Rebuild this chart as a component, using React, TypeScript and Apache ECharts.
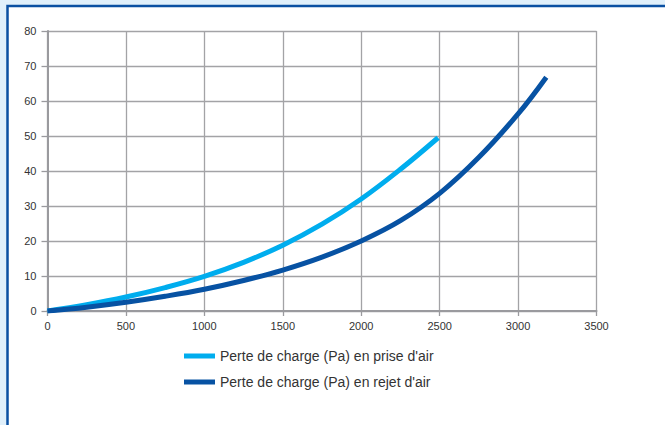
import React, { useEffect, useRef } from "react";
import * as echarts from "echarts";

const priseX = [0, 250, 500, 750, 1000, 1250, 1500, 1750, 2000, 2250, 2490];
const priseY = [0, 1.8, 4.0, 6.7, 9.9, 13.9, 18.8, 24.8, 32.0, 40.5, 49.5];
const rejetX = [0, 250, 500, 750, 1000, 1250, 1500, 1750, 2000, 2250, 2500, 2750, 3000, 3180];
const rejetY = [0, 1.1, 2.5, 4.2, 6.2, 8.7, 11.7, 15.4, 20.0, 25.8, 33.6, 43.9, 56.3, 66.8];
const xTicks = [0, 500, 1000, 1500, 2000, 2500, 3000, 3500];
const seriesNames = ["Perte de charge (Pa) en prise d'air", "Perte de charge (Pa) en rejet d'air"];
const colors = ["#00adee", "#0752a3"];

export default function App() {
  const ref = useRef<HTMLDivElement>(null);
  useEffect(() => {
    if (!ref.current) return;
    const chart = echarts.init(ref.current, undefined, { renderer: "svg" });
    const font = "'Liberation Sans', Arial, sans-serif";
    chart.setOption({
      animation: false,
      backgroundColor: "#ffffff",
      graphic: [
        { type: "rect", z: -10, shape: { x: 0, y: 0, width: 665, height: 425 }, style: { fill: "#e0f0fb" } },
        { type: "rect", z: -9, shape: { x: 7.5, y: 6, width: 720, height: 500 }, style: { fill: "#ffffff", stroke: "#0a50a2", lineWidth: 2.5 } },
      ],
      grid: { left: 47.5, right: 68.5, top: 31, bottom: 114 },
      xAxis: {
        type: "value",
        min: xTicks[0],
        max: xTicks[xTicks.length - 1],
        interval: 500,
        axisLine: { show: true, lineStyle: { color: "#9a9a9e", width: 2 } },
        axisTick: { show: true, length: 5, lineStyle: { color: "#9a9a9e", width: 1.3 } },
        axisLabel: { color: "#333", fontSize: 11, fontFamily: font, margin: 9, formatter: (v: number) => String(v) },
        splitLine: { show: true, lineStyle: { color: "#a3a3a6", width: 1.3 } },
      },
      yAxis: {
        type: "value",
        min: 0,
        max: 80,
        interval: 10,
        axisLine: { show: true, lineStyle: { color: "#9a9a9e", width: 2 } },
        axisTick: { show: true, length: 6, lineStyle: { color: "#9a9a9e", width: 1.3 } },
        axisLabel: { color: "#333", fontSize: 11, fontFamily: font, margin: 11, formatter: (v: number) => String(v) },
        splitLine: { show: true, lineStyle: { color: "#a3a3a6", width: 1.3 } },
      },
      legend: {
        orient: "vertical",
        left: 179,
        top: 343,
        itemWidth: 31,
        itemHeight: 5,
        itemGap: 10,
        icon: "rect",
        textStyle: { color: "#333", fontSize: 14, fontFamily: font, lineHeight: 16 },
        data: seriesNames,
      },
      series: [
        {
          name: seriesNames[0],
          type: "line",
          smooth: 0.4,
          showSymbol: false,
          symbol: "none",
          color: colors[0],
          lineStyle: { width: 5, color: colors[0] },
          data: priseX.map((x, i) => [x, priseY[i]]),
        },
        {
          name: seriesNames[1],
          type: "line",
          smooth: 0.4,
          showSymbol: false,
          symbol: "none",
          color: colors[1],
          lineStyle: { width: 5, color: colors[1] },
          data: rejetX.map((x, i) => [x, rejetY[i]]),
        },
      ],
    });
    return () => chart.dispose();
  }, []);
  return (
    <div
      ref={ref}
      style={{ position: "fixed", left: 0, top: 0, width: 665, height: 425 }}
    />
  );
}
